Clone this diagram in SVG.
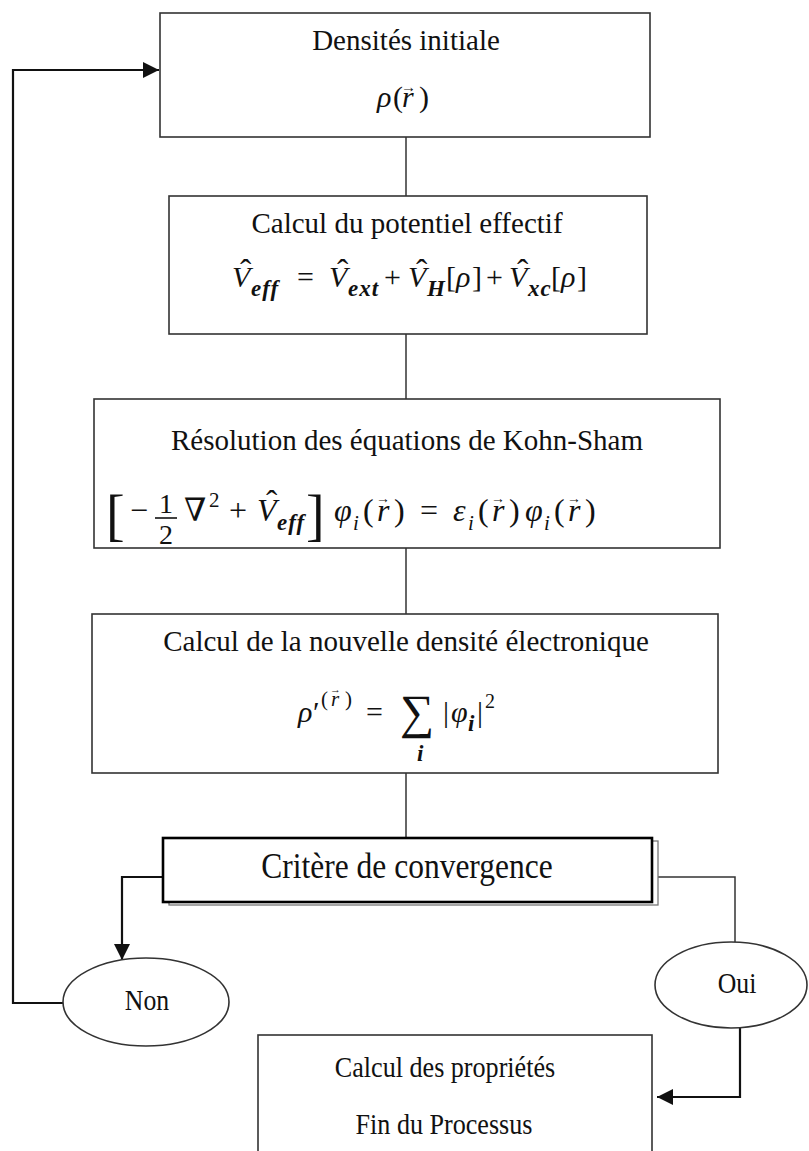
<svg xmlns="http://www.w3.org/2000/svg" width="809" height="1151" viewBox="0 0 809 1151">
<defs>
<style>
.box{fill:#fff;stroke:#333;stroke-width:1.6}
.ln{fill:none;stroke:#333;stroke-width:1.5}
.lnb{fill:none;stroke:#111;stroke-width:2.2}
.t{font-family:"Liberation Serif","DejaVu Serif",serif;fill:#111}
.ttl{font-size:29px;text-anchor:middle}
.m{font-family:"Liberation Serif","DejaVu Serif",serif;fill:#111;font-size:30px}
.it{font-style:italic}
.sb{font-style:italic;font-weight:bold;font-size:23px;letter-spacing:1px}
.si{font-style:italic;font-size:21px}
.hat{font-size:34px}
.vec{font-size:14px}
</style>
<marker id="ah" markerUnits="userSpaceOnUse" markerWidth="17" markerHeight="17" refX="16" refY="8" orient="auto">
<path d="M0,0 L16,8 L0,16 z" fill="#111"/>
</marker>
</defs>

<g id="connectors">
<line class="ln" x1="406" y1="137" x2="406" y2="196"/>
<line class="ln" x1="406" y1="334" x2="406" y2="399"/>
<line class="ln" x1="406" y1="548" x2="406" y2="614"/>
<line class="ln" x1="406" y1="773" x2="406" y2="838"/>
<path class="lnb" d="M163,877 H122 V960" marker-end="url(#ah)"/>
<path class="ln" d="M652,877 H735 V942"/>
<path class="lnb" d="M63,1003 H13 V70 H159" marker-end="url(#ah)"/>
<path class="lnb" d="M740,1028 V1097 H657" marker-end="url(#ah)"/>
</g>

<g id="n1">
<rect class="box" x="160" y="13" width="490" height="124"/>
<text class="t ttl" x="406" y="50">Densités initiale</text>
<text class="m it"><tspan x="377" y="107">ρ</tspan><tspan x="393" y="107" font-style="normal">(</tspan><tspan x="402" y="107">r</tspan><tspan x="419" y="107" font-style="normal">)</tspan></text>
<text class="m" style="font-size:15px" x="401" y="92">→</text>
</g>

<g id="n2">
<rect class="box" x="169" y="196" width="478" height="138"/>
<text class="t ttl" x="407" y="233">Calcul du potentiel effectif</text>
<text class="m"><tspan class="it" x="232" y="287">V</tspan><tspan class="sb" x="251" y="296">eff</tspan><tspan x="297" y="287">=</tspan><tspan class="it" x="329" y="287">V</tspan><tspan class="sb" x="348" y="296">ext</tspan><tspan x="384" y="287">+</tspan><tspan class="it" x="408" y="287">V</tspan><tspan class="sb" x="427" y="296">H</tspan><tspan x="446" y="287">[</tspan><tspan class="it" x="456" y="287">ρ</tspan><tspan x="472" y="287">]</tspan><tspan x="486" y="287">+</tspan><tspan class="it" x="509" y="287">V</tspan><tspan class="sb" x="528" y="296">xc</tspan><tspan x="551" y="287">[</tspan><tspan class="it" x="561" y="287">ρ</tspan><tspan x="577" y="287">]</tspan></text>
<text class="m hat"><tspan x="240" y="283">ˆ</tspan><tspan x="337" y="283">ˆ</tspan><tspan x="416" y="283">ˆ</tspan><tspan x="517" y="283">ˆ</tspan></text>
</g>

<g id="n3">
<rect class="box" x="94" y="399" width="626" height="149"/>
<text class="t ttl" x="407" y="450">Résolution des équations de Kohn-Sham</text>
<text class="m" style="font-size:56px"><tspan x="106" y="534">[</tspan><tspan x="306" y="534">]</tspan></text>
<text class="m" style="font-size:32px"><tspan x="130" y="521">−</tspan><tspan x="184" y="521">∇</tspan><tspan x="229" y="521">+</tspan><tspan class="it" x="257" y="521">V</tspan><tspan class="sb" x="277" y="530">eff</tspan><tspan class="it" x="334" y="521">φ</tspan><tspan class="si" x="353" y="530">i</tspan><tspan x="363" y="521">(</tspan><tspan class="it" x="377" y="521">r</tspan><tspan x="394" y="521">)</tspan><tspan x="420" y="521">=</tspan><tspan class="it" x="453" y="521">ε</tspan><tspan class="si" x="468" y="530">i</tspan><tspan x="478" y="521">(</tspan><tspan class="it" x="492" y="521">r</tspan><tspan x="509" y="521">)</tspan><tspan class="it" x="525" y="521">φ</tspan><tspan class="si" x="544" y="530">i</tspan><tspan x="554" y="521">(</tspan><tspan class="it" x="568" y="521">r</tspan><tspan x="585" y="521">)</tspan></text>
<text class="m" style="font-size:28px" text-anchor="middle"><tspan x="166" y="513">1</tspan><tspan x="166" y="544">2</tspan></text>
<line x1="155" y1="518" x2="177" y2="518" stroke="#111" stroke-width="1.6"/>
<text class="m" style="font-size:21px" x="209" y="507">2</text>
<text class="m hat" x="266" y="514">ˆ</text>
<text class="m vec"><tspan x="376" y="503">→</tspan><tspan x="491" y="503">→</tspan><tspan x="567" y="503">→</tspan></text>
</g>

<g id="n4">
<rect class="box" x="92" y="614" width="626" height="159"/>
<text class="t ttl" x="406" y="651">Calcul de la nouvelle densité électronique</text>
<text class="m"><tspan class="it" x="298" y="722">ρ</tspan><tspan x="313" y="722">′</tspan><tspan x="321" y="706" font-size="21px">(</tspan><tspan class="it" x="331" y="706" font-size="21px">r</tspan><tspan x="345" y="706" font-size="21px">)</tspan><tspan x="366" y="722">=</tspan><tspan x="400" y="728" font-size="48px">∑</tspan><tspan x="443" y="722">|</tspan><tspan class="it" x="451" y="722">φ</tspan><tspan class="sb" x="468" y="731" font-size="21px">i</tspan><tspan x="477" y="722">|</tspan><tspan x="485" y="708" font-size="20px">2</tspan></text>
<text class="m sb" x="417" y="761">i</text>
<text class="m" style="font-size:11px" x="330" y="693">→</text>
</g>

<g id="n5">
<rect class="box" x="163" y="838" width="489" height="64" style="fill:#fff;stroke:#777;stroke-width:1.3" transform="translate(6,3)"/>
<rect class="box" x="163" y="838" width="489" height="64" style="stroke:#000;stroke-width:2.6"/>
<text class="t" font-size="35px" text-anchor="middle" transform="translate(407,878) scale(0.9,1)">Critère de convergence</text>
</g>

<g id="n6">
<ellipse class="box" cx="146" cy="1002" rx="83" ry="44"/>
<text class="t" font-size="28px" text-anchor="middle" transform="translate(147,1010) scale(0.92,1.05)">Non</text>
</g>

<g id="n7">
<ellipse class="box" cx="731" cy="985" rx="76" ry="43"/>
<text class="t" font-size="28px" text-anchor="middle" transform="translate(737,993) scale(0.92,1.05)">Oui</text>
</g>

<g id="n8">
<rect class="box" x="258" y="1035" width="394" height="140"/>
<text class="t" font-size="30px" text-anchor="middle" transform="translate(445,1077) scale(0.87,1)">Calcul des propriétés</text>
<text class="t" font-size="30px" text-anchor="middle" transform="translate(444,1134) scale(0.87,1)">Fin du Processus</text>
</g>
</svg>
